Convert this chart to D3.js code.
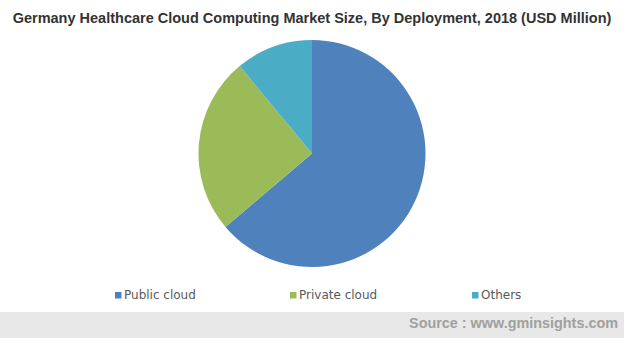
<!DOCTYPE html>
<html><head><meta charset="utf-8">
<script src="https://cdn.jsdelivr.net/npm/d3@7"></script>
<style>body{margin:0;background:#fff}svg{display:block}</style>
</head><body>
<svg id="c" width="624" height="338"></svg>
<script>
const categories = ["Public cloud", "Private cloud", "Others"];
const values = [63.8, 25.2, 11.0];
const colors = ["#4f81bd", "#9bbb59", "#4bacc6"];
const title = "Germany Healthcare Cloud Computing Market Size, By Deployment, 2018 (USD Million)";
const source = "Source : www.gminsights.com";

const svg = d3.select("#c");
const W = 624, H = 338;

svg.append("rect").attr("x",0).attr("y",312).attr("width",W).attr("height",H-312).attr("fill","#e8e8e8");
svg.append("text").attr("x",618).attr("y",328).attr("text-anchor","end")
  .attr("font-family","Liberation Sans, Arial, sans-serif").attr("font-weight","bold")
  .attr("font-size",14.4).attr("fill","#a0a0a0").text(source);

svg.append("text").attr("x",312).attr("y",22.5).attr("text-anchor","middle")
  .attr("font-family","Liberation Sans, Arial, sans-serif").attr("font-weight","bold")
  .attr("font-size",14.5).attr("fill","#333").text(title);

const data = categories.map((c,i)=>({c, v: values[i], col: colors[i]}));
const pie = d3.pie().value(d=>d.v).sort(null);
const arc = d3.arc().innerRadius(0).outerRadius(113.5);
const g = svg.append("g").attr("transform","translate(312,153.5)");
g.selectAll("path").data(pie(data)).join("path").attr("d",arc).attr("fill",d=>d.data.col);

const lx = [115, 290, 472];
const lg = svg.selectAll("g.leg").data(data).join("g").attr("class","leg")
  .attr("transform",(d,i)=>`translate(${lx[i]},293)`);
lg.append("rect").attr("x",0).attr("y",-1).attr("width",6.5).attr("height",6.5).attr("fill",d=>d.col);
lg.append("text").attr("x",9).attr("y",5.5).attr("font-family","DejaVu Sans, Verdana, sans-serif")
  .attr("font-size",12).attr("fill","#595959").text(d=>d.c);
</script>
</body></html>
